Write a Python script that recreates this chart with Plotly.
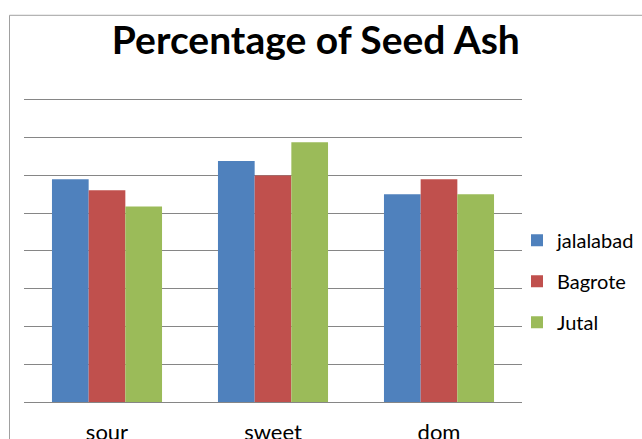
import plotly.graph_objects as go

categories = ["sour", "sweet", "dom"]
series_names = ["jalalabad", "Bagrote", "Jutal"]
jalalabad = [5.9, 6.38, 5.5]
bagrote = [5.61, 6.0, 5.9]
jutal = [5.18, 6.88, 5.5]
values = [jalalabad, bagrote, jutal]
colors = ["#4F81BD", "#C0504D", "#9BBB59"]

fig = go.Figure()
for name, vals, col in zip(series_names, values, colors):
    fig.add_trace(go.Bar(x=categories, y=vals, name=name, legendgroup=name,
                         marker=dict(color=col, line=dict(width=0))))

W, H = 642, 439
ml, mr, mt, mb = 24, 120, 98.1, 37.3
pw = W - ml - mr
ph = H - mt - mb
bottom = H - mb
fig.update_layout(
    width=W, height=H,
    margin=dict(l=ml, r=mr, t=mt, b=mb, autoexpand=False),
    paper_bgcolor="white", plot_bgcolor="white",
    barmode="group", bargap=0.337, bargroupgap=0,
    font=dict(family="Lato", color="black"),
    title=dict(text="<b>Percentage of Seed Ash</b>", x=0.492, xanchor="center",
               y=1 - 40 / H, yanchor="middle", font=dict(size=39, family="Lato", color="black")),
    showlegend=True,
    legend=dict(x=1 + (517 - (W - mr)) / pw, xanchor="left", y=(bottom - 281) / ph, yanchor="middle",
                font=dict(size=20, family="Lato"), tracegroupgap=12,
                itemsizing="constant", bgcolor="rgba(0,0,0,0)"),
    xaxis=dict(showgrid=False, showline=True, linecolor="#868686", linewidth=1,
               ticks="", tickfont=dict(size=22, family="Lato"), ticklabelstandoff=11,
               zeroline=False),
    yaxis=dict(range=[0, 8.05], dtick=1, showgrid=True, gridcolor="#868686", gridwidth=1,
               showticklabels=False, zeroline=False, showline=False),
    shapes=[dict(type="rect", xref="paper", yref="paper",
                 x0=(9.5 - ml) / pw, x1=(700 - ml) / pw,
                 y0=-(480 - bottom) / ph, y1=(bottom - 15.5) / ph,
                 line=dict(color="#A0A0A0", width=1), fillcolor="rgba(0,0,0,0)", layer="below")],
)
fig.write_html("out.html", config={"displayModeBar": False},
               post_script="document.body.style.margin='0';document.body.style.overflow='hidden';")
